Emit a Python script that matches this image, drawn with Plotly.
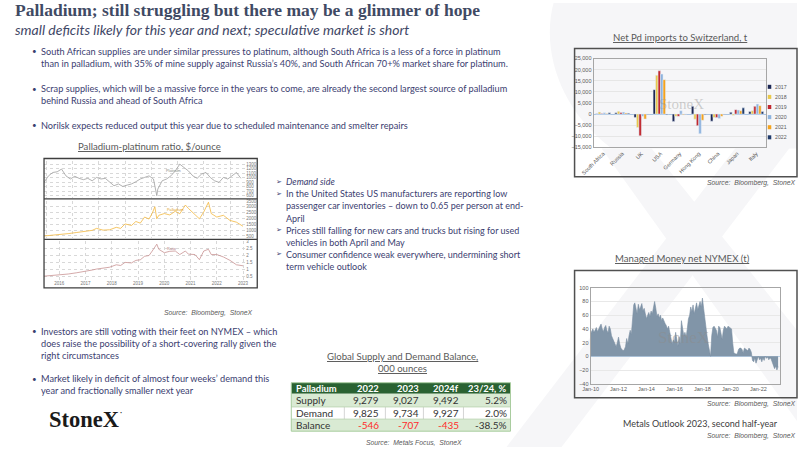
import plotly.graph_objects as go
import pandas as pd

W, H = 800, 450
# the photographed page comes out slightly shrunk and shifted; map slide pixels onto it
SX, OX = 0.979, 12
SY, OY = 0.977, 6


def X(p):
    return min(max((p - OX) / SX, 0), W) / W


def Y(p):
    return 1 - min(max((p - OY) / SY, 0), H) / H


# ---- Net Pd imports to Switzerland (bars) ----
countries = ["South Africa", "Russia", "UK", "USA", "Germany", "Hong Kong", "China", "Japan", "Italy"]
years = ["2017", "2018", "2019", "2020", "2021", "2022"]
year_colors = ["#1c2754", "#e9c84a", "#c1272d", "#8db3de", "#f5a31d", "#203a6a"]
imports = {
    "2017": [200, 600, -1500, 11000, -3300, 3500, -3200, 800, 1200],
    "2018": [900, 1300, -6000, 17500, -1000, -2300, -1500, -500, 1500],
    "2019": [300, 700, -9800, 19500, -1000, -5200, -1500, 2000, 3500],
    "2020": [600, 900, -1000, 18000, 1500, -8800, -2000, 1800, 4500],
    "2021": [300, 500, -2200, 15500, -300, -2800, -1000, 1500, 3800],
    "2022": [600, 400, -200, -300, -100, -300, -200, 2800, 1200],
}

# ---- Managed money net NYMEX (t), monthly from Jan-10 ----
mm_net = [
    33, 36, 40, 35, 38, 42, 36, 40, 44, 47, 40, 36,
    42, 45, 38, 34, 44, 40, 30, 26, 22, 18, 14, 20,
    28, 18, 12, 10, 8, 10, 14, 26, 18, 30, 38, 32,
    55, 75, 78, 70, 62, 76, 68, 72, 77, 66, 70, 62,
    55, 60, 64, 58, 66, 62, 72, 80, 70, 58, 62, 56,
    60, 52, 56, 50, 48, 45, 40, 44, 34, 22, 18, 24,
    20, 35, 22, 15, 28, 18, 52, 40, 30, 35, 28, 40,
    55, 60, 72, 65, 75, 62, 70, 78, 68, 74, 80, 72,
    85, 70, 55, 42, 30, 18, 5, 0, 30, 42, 44, 40,
    38, 28, 44, 42, 30, 25, 38, 44, 42, 40, 44, 43,
    42, 40, 20, 5, 4, 3, 4, 10, 12, 12, 10, 5,
    12, 11, 10, 8, 12, 10, 6, -6, -8, -2, -10, -3,
    0, -5, -3, -8, -2, -6, 0, -3, -1, -5, -2, -4,
    -8, -12, -18, -14, -20, -15,
]
mm_dates = pd.date_range("2010-01-01", periods=len(mm_net), freq="MS")

# ---- Palladium-platinum ratio panels ----
pt_dates = [
    "2015-12-01", "2016-02-01", "2016-04-01", "2016-06-01", "2016-08-01", "2016-10-01",
    "2016-12-01", "2017-02-01", "2017-04-01", "2017-06-01", "2017-08-01", "2017-10-01",
    "2017-12-01", "2018-02-01", "2018-04-01", "2018-06-01", "2018-08-01", "2018-10-01",
    "2018-12-01", "2019-02-01", "2019-04-01", "2019-06-01", "2019-08-01", "2019-10-01",
    "2019-12-01", "2020-02-01", "2020-03-18", "2020-04-01", "2020-06-01", "2020-08-01",
    "2020-10-01", "2020-12-01", "2021-02-01", "2021-04-01", "2021-06-01", "2021-08-01",
    "2021-10-01", "2021-12-01", "2022-02-01", "2022-04-01", "2022-06-01", "2022-08-01",
    "2022-10-01", "2022-12-01", "2023-02-01", "2023-04-01", "2023-06-01",
]
platinum = [
    895, 1040, 1115, 1130, 1190, 1040, 970, 1030, 985, 955, 985, 930,
    1005, 970, 985, 910, 820, 860, 805, 835, 860, 910, 970, 1005,
    1040, 970, 600, 745, 930, 970, 1040, 1150, 1300, 1225, 1150, 1040,
    985, 1080, 1115, 1005, 930, 895, 1005, 970, 1040, 1115, 985,
]
pd_dates = [
    "2015-12-01", "2016-04-01", "2016-07-01", "2016-11-01", "2017-03-01", "2017-07-01",
    "2017-10-01", "2017-12-01", "2018-03-01", "2018-06-01", "2018-09-01", "2018-11-01",
    "2019-01-01", "2019-04-01", "2019-06-01", "2019-08-01", "2019-10-01", "2019-12-01",
    "2020-01-15", "2020-02-20", "2020-03-18", "2020-04-15", "2020-07-01", "2020-09-15",
    "2020-12-01", "2021-02-01", "2021-04-20", "2021-06-01", "2021-09-01", "2021-11-01",
    "2022-01-01", "2022-03-07", "2022-04-15", "2022-07-01", "2022-10-01", "2023-01-01",
    "2023-04-01", "2023-07-01",
]
palladium = [
    500, 560, 650, 700, 800, 880, 980, 1150, 1000, 1030, 1240, 1150,
    1530, 1400, 1740, 1600, 2120, 1950, 2450, 3000, 1970, 2270, 2420, 2300,
    2620, 2400, 3150, 2860, 2270, 1970, 2560, 3390, 2420, 2120, 2270, 1830,
    1680, 1330,
]
ratio = [
    0.55, 0.6, 0.6, 0.7, 0.79, 0.88, 0.98, 1.05, 1.12, 1.18, 1.35, 1.3,
    1.52, 1.48, 1.66, 1.7, 1.95, 2.0, 2.32, 2.6, 2.8, 2.44, 2.2, 2.3,
    2.32, 2.07, 2.32, 2.1, 2.07, 1.71, 2.32, 2.44, 2.07, 2.07, 1.9, 1.66,
    1.35, 1.28,
]

# ---- Supply / demand table ----
tbl_header = ["Palladium", "2022", "2023", "2024f", "23/24, %"]
row_labels = ["Supply", "Demand", "Balance"]
supply = [9279, 9027, 9492]
demand = [9825, 9734, 9927]
balance = [-546, -707, -435]
change_pct = [5.2, 2.0, -38.5]

TXT = "#3b4070"
GREY = "#595959"
SANS = "Lato"

fig = go.Figure()

# ratio chart panels
fig.add_trace(go.Scatter(x=pt_dates, y=platinum, mode="lines", line=dict(color="#9e9e9e", width=0.8),
                         xaxis="x", yaxis="y", showlegend=False))
fig.add_trace(go.Scatter(x=pd_dates, y=palladium, mode="lines", line=dict(color="#f3b73f", width=0.8),
                         xaxis="x2", yaxis="y2", showlegend=False))
fig.add_trace(go.Scatter(x=pd_dates, y=ratio, mode="lines", line=dict(color="#c99393", width=0.8),
                         xaxis="x3", yaxis="y3", showlegend=False))

# bars
for yr, col in zip(years, year_colors):
    fig.add_trace(go.Bar(x=countries, y=imports[yr], name=yr, marker_color=col,
                         xaxis="x4", yaxis="y4", showlegend=False))

# managed money
fig.add_trace(go.Scatter(x=mm_dates, y=mm_net, mode="lines", fill="tozeroy",
                         fillcolor="#8195a8", line=dict(color="#7a8ea2", width=0.6),
                         xaxis="x5", yaxis="y5", showlegend=False))

small_tick = dict(size=4.5, color="#777777", family="Liberation Sans")
rx = dict(domain=[X(43), X(244)], range=["2015-12-01", "2023-08-01"], showgrid=True,
          gridcolor="#d8d8d8", griddash="dot", gridwidth=0.5, dtick="M12", tick0="2016-01-01",
          zeroline=False, showline=False, ticks="")
ry = dict(side="right", showgrid=True, gridcolor="#d8d8d8", griddash="dot", gridwidth=0.5,
          zeroline=False, tickfont=small_tick, ticks="", showline=False)

layout = dict(
    width=W, height=H, margin=dict(l=0, r=0, t=0, b=0),
    paper_bgcolor="white", plot_bgcolor="rgba(0,0,0,0)",
    barmode="group", bargap=0.22, bargroupgap=0,
    xaxis=dict(rx, anchor="y", showticklabels=False),
    xaxis2=dict(rx, anchor="y2", showticklabels=False),
    xaxis3=dict(rx, anchor="y3", tickvals=["%d-07-01" % y for y in range(2016, 2024)],
                ticktext=[str(y) for y in range(2016, 2024)], tickfont=small_tick),
    yaxis=dict(ry, domain=[Y(199), Y(162)], anchor="x", range=[550, 1380], dtick=100),
    yaxis2=dict(ry, domain=[Y(239), Y(202)], anchor="x2", range=[300, 3500], dtick=500),
    yaxis3=dict(ry, domain=[Y(280), Y(242)], anchor="x3", range=[0.3, 3.0], dtick=0.5),
    xaxis4=dict(domain=[X(592), X(764)], anchor="y4", tickangle=-45,
                tickfont=dict(size=5.5, color=GREY, family="Liberation Sans"),
                showline=True, mirror=True, linecolor="#a6a6a6", linewidth=1, ticks=""),
    yaxis4=dict(domain=[Y(149), Y(61)], anchor="x4", range=[-15000, 25000], dtick=5000,
                tickformat=",", tickfont=dict(size=5.5, color=GREY, family="Liberation Sans"),
                gridcolor="#e6e6e6", zerolinecolor="#a9c4e2", zerolinewidth=1,
                showline=True, mirror=True, linecolor="#a6a6a6", linewidth=1),
    xaxis5=dict(domain=[X(589), X(778)], anchor="y5", range=["2010-01-01", "2023-07-15"],
                dtick="M24", tick0="2010-01-01", tickformat="%b-%y", showgrid=False,
                tickfont=dict(size=5.5, color=GREY, family="Liberation Sans"),
                showline=True, mirror=True, linecolor="#a6a6a6", linewidth=1, ticks=""),
    yaxis5=dict(domain=[Y(383), Y(288)], anchor="x5", range=[-40, 100], dtick=20,
                tickfont=dict(size=5.5, color=GREY, family="Liberation Sans"),
                gridcolor="#e8e8e8", zerolinecolor="#b8cfe6", zerolinewidth=1,
                showline=True, mirror=True, linecolor="#a6a6a6", linewidth=1),
)
fig.update_layout(**layout)

shapes = []
ann = []


def rect(x0, y0, x1, y1, fill=None, line=None, lw=1, layer="above"):
    shapes.append(dict(type="rect", xref="paper", yref="paper", x0=X(x0), x1=X(x1), y0=Y(y1), y1=Y(y0),
                       fillcolor=fill or "rgba(0,0,0,0)",
                       line=dict(color=line or "rgba(0,0,0,0)", width=lw if line else 0), layer=layer))


def hline(x0, x1, y, color, lw):
    shapes.append(dict(type="line", xref="paper", yref="paper", x0=X(x0), x1=X(x1), y0=Y(y), y1=Y(y),
                       line=dict(color=color, width=lw)))


def text(x, y, s, size=9, color=TXT, family=SANS, xanchor="left", yanchor="middle", **kw):
    ann.append(dict(x=X(x), y=Y(y), xref="paper", yref="paper", text=s, showarrow=False,
                    xanchor=xanchor, yanchor=yanchor, align=xanchor if xanchor != "center" else "center",
                    font=dict(size=size, color=color, family=family), **kw))


# faint watermark X on the right
for path in ["M 552 0 C 540 50 556 110 610 150 L 800 150 L 800 0 Z",
             "M 505 450 L 560 450 L 800 140 L 800 70 Z",
             "M 600 150 L 650 150 L 800 330 L 800 420 Z"]:
    pts = path.split()
    out = []
    i = 0
    while i < len(pts):
        t = pts[i]
        if t in "MLCZ":
            out.append(t)
            i += 1
        else:
            out.append("%.4f,%.4f" % (X(float(t)), Y(float(pts[i + 1]))))
            i += 2
    shapes.append(dict(type="path", xref="paper", yref="paper", path=" ".join(out),
                       fillcolor="#f6f6f8", line=dict(width=0), layer="below"))

# titles
text(5, 13, "<b>Palladium; still struggling but there may be a glimmer of hope</b>", size=17.5,
     color="#3f4a64", family="Liberation Serif")
text(5, 32, "<i>small deficits likely for this year and next; speculative market is short</i>", size=14,
     color="#3f4766")

# top bullets
top_bullets = [
    (54, ["South African supplies are under similar pressures to platinum, although South Africa is a less of a force in platinum",
          "than in palladium, with 35% of mine supply against Russia\u2019s 40%, and South African 70+% market share for platinum."]),
    (91, ["Scrap supplies, which will be a massive force in the years to come, are already the second largest source of palladium",
          "behind Russia and ahead of South Africa"]),
    (127, ["Norilsk expects reduced output this year due to scheduled maintenance and smelter repairs"]),
]
for y0, lines in top_bullets:
    text(29, y0, "\u2022", size=8)
    for k, ln in enumerate(lines):
        text(38, y0 + 12 * k, ln, size=9.2)

# middle arrow bullets
mid_lines = [
    ("\u27a2", "<i>Demand side</i>"),
    ("\u27a2", "In the United States US manufacturers are reporting low"),
    ("", "passenger car inventories \u2013 down to 0.65 per person at end-"),
    ("", "April"),
    ("\u27a2", "Prices still falling for new cars and trucks but rising for used"),
    ("", "vehicles in both April and May"),
    ("\u27a2", "Consumer confidence weak everywhere, undermining short"),
    ("", "term vehicle outlook"),
]
for k, (mark, ln) in enumerate(mid_lines):
    yy = 183 + 12 * k
    if mark:
        text(273, yy, mark, size=7, family="DejaVu Sans")
    text(283, yy, ln, size=9.0)

# bottom-left bullets
bot_bullets = [
    (331, ["Investors are still voting with their feet on NYMEX \u2013 which",
           "does raise the possibility of a short-covering rally given the",
           "right circumstances"]),
    (378, ["Market likely in deficit of almost four weeks\u2019 demand this",
           "year and fractionally smaller next year"]),
]
for y0, lines in bot_bullets:
    text(29, y0, "\u2022", size=8)
    for k, ln in enumerate(lines):
        text(38, y0 + 12 * k, ln, size=9.2)

text(46, 418, "<b>StoneX</b>", size=22.5, color="#1a1a1a", family="Liberation Serif")
text(117, 411, "\u00b7", size=8, color="#1a1a1a")

# ratio chart frame
text(148, 148, "<u>Palladium-platinum ratio, $/ounce</u>", size=9.6, color=GREY, xanchor="center")
rect(43, 160, 256, 288, line="#3f3f3f", lw=1.3)
hline(43, 256, 200, "#3f3f3f", 1.3)
hline(43, 256, 240, "#3f3f3f", 1.3)
text(163, 172, "Platinum", size=3.8, color="#888888", family="Liberation Sans")
text(164, 211, "Palladium", size=3.8, color="#e0a030", family="Liberation Sans")
text(164, 250, "Ratio", size=3.8, color="#b08080", family="Liberation Sans")
text(207, 313, "<i>Source:  Bloomberg,  StoneX</i>", size=6.8, color=GREY, family="Liberation Sans",
     xanchor="center")

# bar chart frame, watermark, legend
text(679, 40, "<u>Net Pd imports to Switzerland, t</u>", size=9.6, color=GREY, xanchor="center")
rect(573, 51, 796, 178, line="#505050", lw=1.5)
text(680, 106, "StoneX", size=15, color="rgba(150,150,150,0.45)", family="Liberation Serif",
     xanchor="center")
for k, (yr, col) in enumerate(zip(years, year_colors)):
    yy = 89 + 10 * k
    rect(766, yy - 2, 769.5, yy + 2, fill=col)
    text(771, yy, yr, size=5.2, color=GREY, family="Liberation Sans")
text(795, 184, "<i>Source:  Bloomberg,  StoneX</i>", size=6.8, color=GREY, family="Liberation Sans",
     xanchor="right")

# managed money frame
text(681, 259, "<u>Managed Money net NYMEX (t)</u>", size=9.6, color=GREY, xanchor="center")
rect(573, 271, 796, 397, line="#505050", lw=1.5)
text(682, 337, "StoneX", size=17, color="rgba(140,140,140,0.5)", family="Liberation Serif",
     xanchor="center")
text(795, 403, "<i>Source:  Bloomberg,  StoneX</i>", size=6.8, color=GREY, family="Liberation Sans",
     xanchor="right")
text(778, 422, "Metals Outlook 2023, second half-year", size=9.0, color="#404040", xanchor="right")
text(795, 435, "<i>Source:  Bloomberg,  StoneX</i>", size=6.8, color=GREY, family="Liberation Sans",
     xanchor="right")

# supply / demand table
text(401, 356, "<u>Global Supply and Demand Balance,</u>", size=9.6, color=GREY, xanchor="center")
text(401, 368, "<u>000 ounces</u>", size=9.6, color=GREY, xanchor="center")
col_edges = [290, 343, 384, 422, 462, 509]
row_edges = [382, 393, 406, 418, 430]
rect(290, row_edges[0], 509, row_edges[1], fill="#2a6232")
rect(290, row_edges[1], 509, row_edges[2], fill="#d9ead3")
rect(290, row_edges[2], 509, row_edges[3], fill="white")
rect(290, row_edges[3], 509, row_edges[4], fill="#d9ead3")
for c in col_edges[1:-1]:
    shapes.append(dict(type="line", xref="paper", yref="paper", x0=X(c), x1=X(c),
                       y0=Y(row_edges[3]), y1=Y(row_edges[2]), line=dict(color="#c9c9c9", width=0.8)))
for r in row_edges[2:4]:
    hline(290, 509, r, "#b9d3b0", 0.8)
rect(290, row_edges[0], 509, row_edges[4], line="#a9cc9f", lw=1)

col_right = [None, 380, 420, 460, 507]
for j, h in enumerate(tbl_header):
    yy = (row_edges[0] + row_edges[1]) / 2
    if j == 0:
        text(293, yy, "<b>" + h + "</b>", size=9.4, color="white")
    else:
        text(col_right[j], yy, "<b>" + h + "</b>", size=9.4, color="white", xanchor="right")

body = [
    [f"{v:,}" for v in supply] + [f"{change_pct[0]:.1f}%"],
    [f"{v:,}" for v in demand] + [f"{change_pct[1]:.1f}%"],
    [f"{v:,}" for v in balance] + [f"{change_pct[2]:.1f}%"],
]
for i, lab in enumerate(row_labels):
    yy = (row_edges[i + 1] + row_edges[i + 2]) / 2
    text(293, yy, lab, size=10, color="#333333")
    for j, v in enumerate(body[i]):
        col = "#ff2b2b" if (lab == "Balance" and j < 3) else "#333333"
        text(col_right[j + 1], yy, v, size=10, color=col, xanchor="right")
text(413, 441, "<i>Source:  Metals Focus,  StoneX</i>", size=6.8, color=GREY, family="Liberation Sans",
     xanchor="center")

fig.update_layout(shapes=shapes, annotations=ann)
fig.write_html("out.html", config={"displayModeBar": False},
               post_script="document.body.style.margin='0';document.body.style.overflow='hidden';")
